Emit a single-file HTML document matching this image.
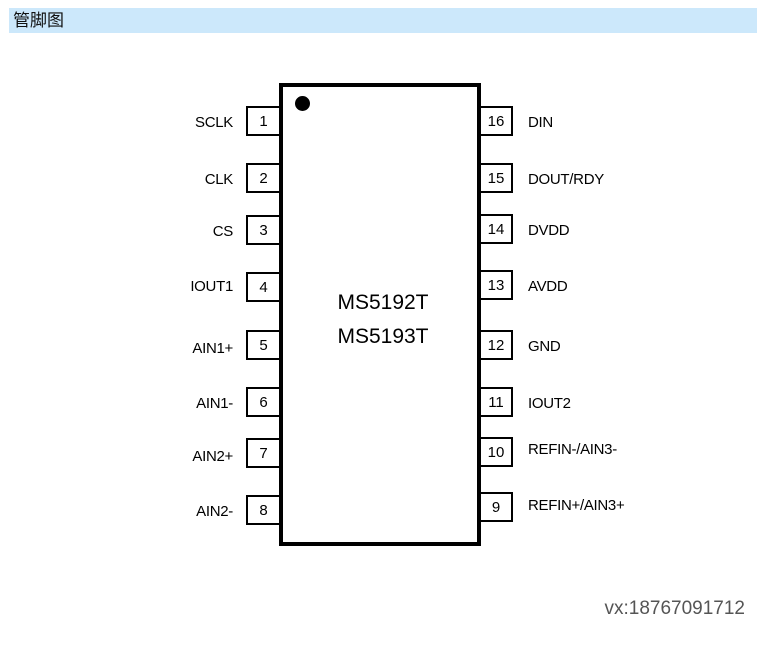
<!DOCTYPE html>
<html><head><meta charset="utf-8"><style>
body{margin:0;width:774px;height:647px;background:#fff;position:relative;font-family:"Liberation Sans","Noto Sans CJK SC",sans-serif;overflow:hidden}
.hd{position:absolute;left:9px;top:8px;width:748px;height:25px;background:#cce8fb;font-size:17px;line-height:25px;padding-left:4px;box-sizing:border-box;color:#111}
.chip{position:absolute;left:279px;top:83px;width:202px;height:463px;border:4px solid #000;box-sizing:border-box}
.dot{position:absolute;left:295px;top:96px;width:15px;height:15px;border-radius:50%;background:#000}
.pl{position:absolute;left:246px;width:35px;height:30px;border:2px solid #000;box-sizing:border-box;font-size:15px;text-align:center;line-height:28px;background:#fff}
.pr{position:absolute;left:479px;width:34px;height:30px;border:2px solid #000;box-sizing:border-box;font-size:15px;text-align:center;line-height:28px;background:#fff}
.ll{position:absolute;right:541px;font-size:15px;line-height:20px;color:#000;letter-spacing:-0.3px}
.lr{position:absolute;left:528px;font-size:15px;line-height:20px;color:#000;letter-spacing:-0.3px}
.ct{position:absolute;left:279px;width:208px;text-align:center;font-size:21px;color:#000}
.vx{position:absolute;right:29px;top:598px;font-size:19px;color:#555}
</style></head><body>
<div class="hd">管脚图</div>
<div class="chip"></div>
<div class="dot"></div>
<div class="ct" style="top:291px">MS5192T</div>
<div class="ct" style="top:325px">MS5193T</div>

<div class="pl" style="top:106px">1</div><div class="ll" style="top:113px">SCLK</div>
<div class="pl" style="top:163px">2</div><div class="ll" style="top:170px">CLK</div>
<div class="pl" style="top:215px">3</div><div class="ll" style="top:222px">CS</div>
<div class="pl" style="top:272px">4</div><div class="ll" style="top:277px">IOUT1</div>
<div class="pl" style="top:330px">5</div><div class="ll" style="top:339px">AIN1+</div>
<div class="pl" style="top:387px">6</div><div class="ll" style="top:394px">AIN1-</div>
<div class="pl" style="top:438px">7</div><div class="ll" style="top:447px">AIN2+</div>
<div class="pl" style="top:495px">8</div><div class="ll" style="top:502px">AIN2-</div>

<div class="pr" style="top:106px">16</div><div class="lr" style="top:113px">DIN</div>
<div class="pr" style="top:163px">15</div><div class="lr" style="top:170px">DOUT/RDY</div>
<div class="pr" style="top:214px">14</div><div class="lr" style="top:221px">DVDD</div>
<div class="pr" style="top:270px">13</div><div class="lr" style="top:277px">AVDD</div>
<div class="pr" style="top:330px">12</div><div class="lr" style="top:337px">GND</div>
<div class="pr" style="top:387px">11</div><div class="lr" style="top:394px">IOUT2</div>
<div class="pr" style="top:437px">10</div><div class="lr" style="top:440px">REFIN-/AIN3-</div>
<div class="pr" style="top:492px">9</div><div class="lr" style="top:496px">REFIN+/AIN3+</div>

<div class="vx">vx:18767091712</div>
</body></html>
